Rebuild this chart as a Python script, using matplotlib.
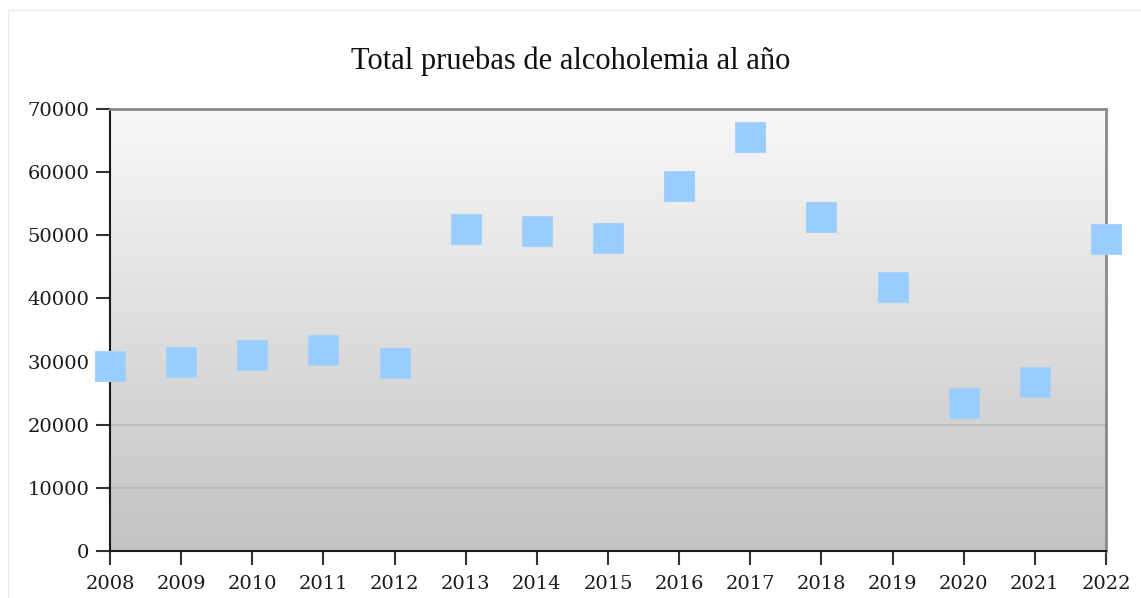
import numpy as np
import matplotlib
matplotlib.use("Agg")
import matplotlib.pyplot as plt
from matplotlib.patches import Rectangle

years = [2008, 2009, 2010, 2011, 2012, 2013, 2014, 2015,
         2016, 2017, 2018, 2019, 2020, 2021, 2022]
tests = [29280, 29990, 31000, 31890, 29750, 51070, 50630, 49540,
         57810, 65540, 52940, 41860, 23360, 26800, 49490]
y_ticks = [0, 10000, 20000, 30000, 40000, 50000, 60000, 70000]
grid_levels = [10000, 20000]
title = "Total pruebas de alcoholemia al año"

W, H = 1141, 598
fig = plt.figure(figsize=(W / 100, H / 100), dpi=100)
fig.patch.set_facecolor("white")

# faint outer frame of the chart
fig.patches.append(Rectangle((8 / W, -0.01), (W + 10) / W, (H - 10) / H + 0.01,
                             transform=fig.transFigure, fill=False,
                             edgecolor="#ececec", linewidth=1))

ax = fig.add_axes([110 / W, (H - 551) / H, 996 / W, 442 / H])
ax.set_xlim(2008, 2022)
ax.set_ylim(0, 70000)

# vertical gradient background of the plot area
grad = np.linspace(0, 1, 256).reshape(-1, 1)
cmap = matplotlib.colors.LinearSegmentedColormap.from_list(
    "bg", ["#c3c3c3", "#f8f8f8"])
ax.imshow(grad, cmap=cmap, aspect="auto", origin="lower",
          extent=[0, 1, 0, 1], transform=ax.transAxes, zorder=0)

ax.set_yticks(y_ticks)
ax.set_xticks(years)
for level in grid_levels:
    ax.axhline(level, color="#b9b9b9", linewidth=1.2, zorder=1)

ax.plot(years, tests, linestyle="none", marker="s", markersize=21.6,
        markerfacecolor="#99ccff", markeredgecolor="#a8d2fa",
        markeredgewidth=0.8, clip_on=False, zorder=5)

for side in ("left", "bottom"):
    ax.spines[side].set_color("#1a1a1a")
    ax.spines[side].set_linewidth(1.5)
for side in ("top", "right"):
    ax.spines[side].set_color("#8a8a8a")
    ax.spines[side].set_linewidth(2)

ax.tick_params(axis="both", direction="out", length=10, width=1.5,
               color="#333333", labelcolor="#1a1a1a")
ax.tick_params(axis="x", pad=7)
ax.tick_params(axis="y", pad=5)
ax.set_yticklabels([str(v) for v in y_ticks])
ax.set_xticklabels([str(y) for y in years])
for lbl in ax.get_xticklabels() + ax.get_yticklabels():
    lbl.set_family("DejaVu Serif")
    lbl.set_fontsize(14)

fig.text(0.5, (H - 61) / H, title,
         family="Liberation Serif", fontsize=22, ha="center", va="center",
         color="#111111")

fig.savefig("out.png", dpi=100)
